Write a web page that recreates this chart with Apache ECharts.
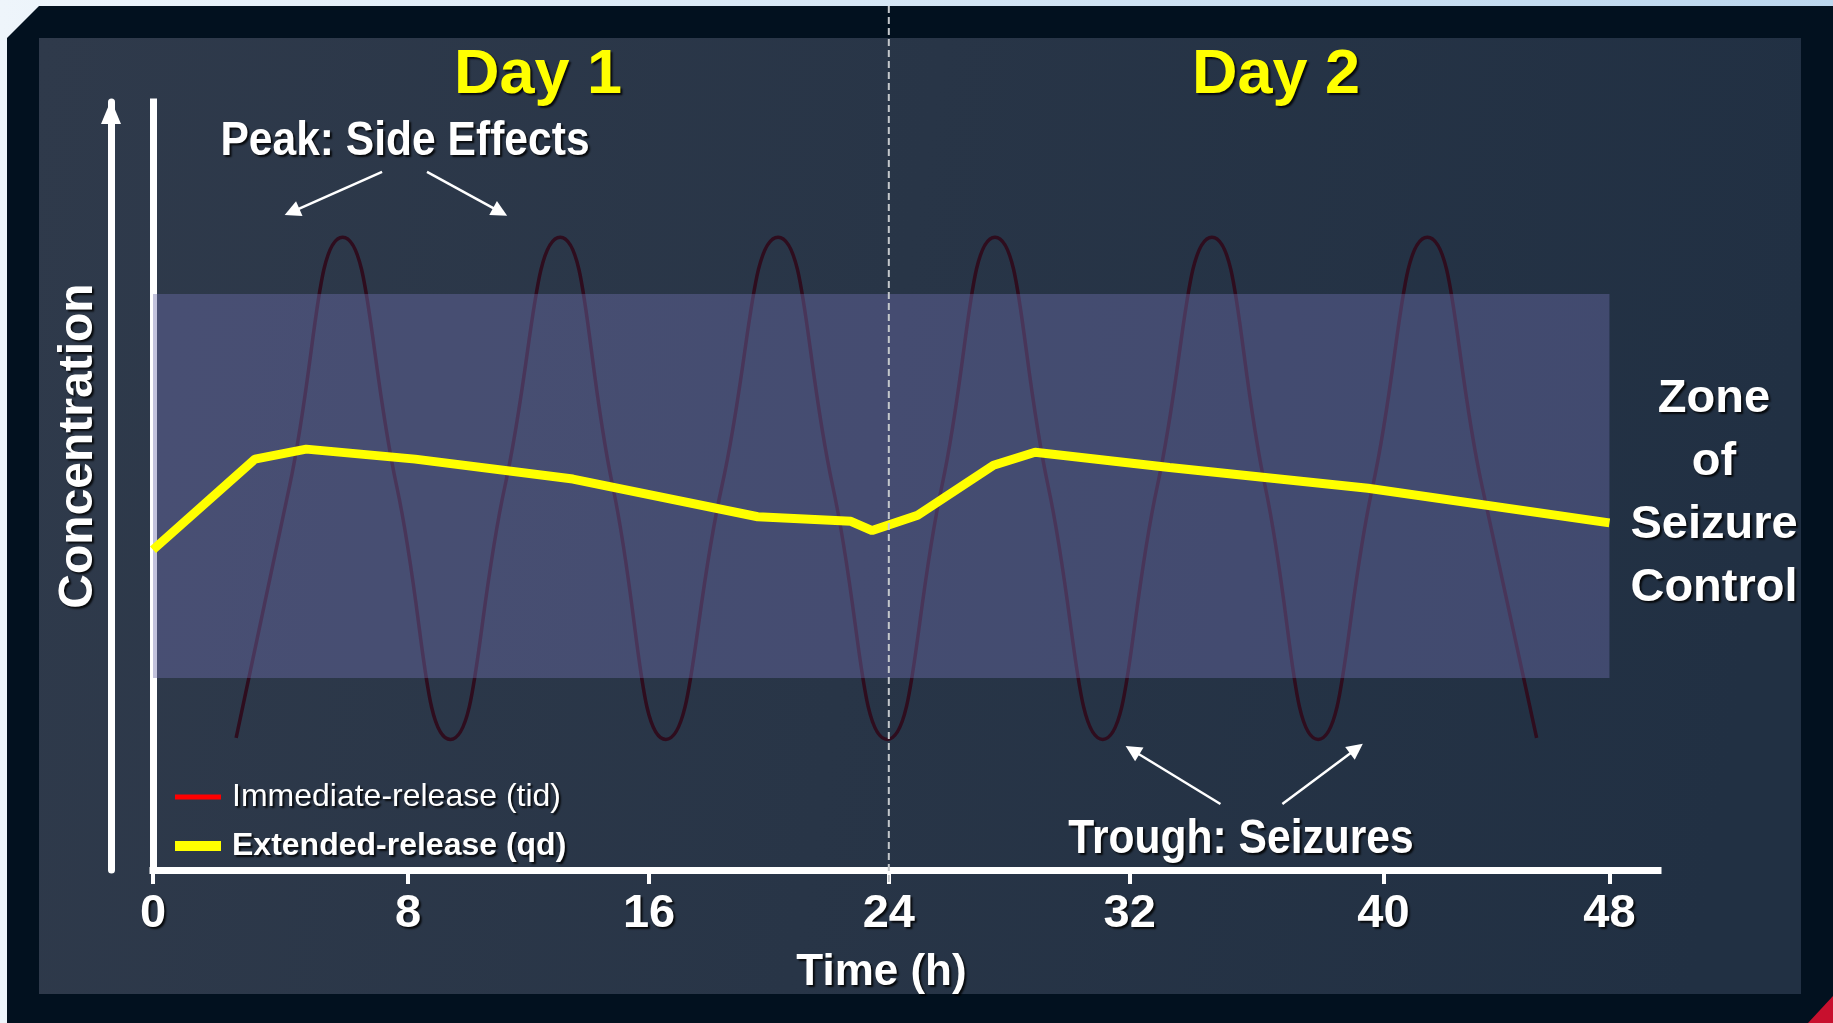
<!DOCTYPE html>
<html>
<head>
<meta charset="utf-8">
<title>Immediate-release vs extended-release</title>
<script src="https://cdn.jsdelivr.net/npm/echarts@6/dist/echarts.min.js"></script>
<style>
html, body { margin: 0; padding: 0; background: #02111f; }
#chart { width: 1833px; height: 1023px; }
</style>
</head>
<body>
<div id="chart"></div>
<script>
// x axis: hours, y axis: relative concentration (0-100, no labels)
// the hand-placed ticks of the slide sit a little off the even grid, so keep where they are
var tickLabels = ['0', '8', '16', '24', '32', '40', '48'];
var tickHours  = [0, 8.41, 16.35, 24.25, 32.19, 40.55, 48];

// immediate-release (tid) - peaks, troughs and mid crossings
var irTimes  = [2.74, 4.5, 6.25, 8.03, 9.8, 11.6, 13.42, 15.15, 16.9, 18.75, 20.6, 22.4, 24.2,
                26.0, 27.75, 29.5, 31.3, 33.1, 34.9, 36.65, 38.4, 40.2, 42.0, 43.8, 45.6];
var irValues = [17.2, 50, 82.4, 50, 17, 50, 82.4, 50, 17, 50, 82.4, 50, 17,
                50, 82.4, 50, 17, 50, 82.4, 50, 17, 50, 82.4, 50, 17.2];

// extended-release (qd)
var erTimes  = [0, 3.36, 5.05, 8.64, 13.84, 19.93, 23.0, 23.7, 25.2, 27.7, 29.07, 33.5, 40.04, 48];
var erValues = [41.7, 53.5, 54.8, 53.5, 50.9, 46.0, 45.4, 44.2, 46.2, 52.7, 54.4, 52.4, 49.7, 45.2];

// zone of seizure control
var zoneLow = 25, zoneHigh = 75, zoneEnd = 48;
var dayBreak = 24.25;

// annotation arrows [from, to] in (hours, concentration)
var peakArrows   = [[[7.55, 90.9], [4.58, 85.7]], [[9.03, 90.9], [11.44, 85.7]]];
var troughArrows = [[[35.18, 8.6], [32.28, 15.6]], [[37.22, 8.6], [39.66, 15.8]]];

var FONT = '"Liberation Sans", Arial, sans-serif';

function zip(xs, ys) {
    return xs.map(function (x, i) { return [x, ys[i]]; });
}

var shadow = {
    textShadowColor: 'rgba(0,0,0,0.85)',
    textShadowBlur: 2,
    textShadowOffsetX: 2,
    textShadowOffsetY: 2
};

function label(x, y, text, font, color, extra) {
    var el = {
        type: 'text', x: x, y: y, z: 20,
        style: Object.assign({
            text: text, font: font, fill: color || '#fff',
            align: 'center', verticalAlign: 'middle',
            textAlign: 'center', textVerticalAlign: 'middle'
        }, shadow)
    };
    return Object.assign(el, extra || {});
}

var zoneText = label(1714, 494, 'Zone\nof\nSeizure\nControl', 'bold 47px ' + FONT, '#fff');
zoneText.style.lineHeight = 63;

var frame = [
    { type: 'rect', z: -20, shape: { x: 0, y: 0, width: 1833, height: 1023 },
      style: { fill: new echarts.graphic.LinearGradient(0, 0, 1, 0, [
          { offset: 0, color: '#eef5fb' }, { offset: 1, color: '#bcd7ee' }]) } },
    { type: 'polygon', z: -19, shape: { points: [[7, 38], [39, 6], [1833, 6], [1833, 1023], [7, 1023]] },
      style: { fill: '#02111f' } },
    { type: 'rect', z: -18, shape: { x: 39, y: 38, width: 1762, height: 956 },
      style: { fill: new echarts.graphic.LinearGradient(0, 0, 1, 0.3, [
          { offset: 0, color: '#2f3a4b' }, { offset: 1, color: '#213043' }]) } },
    { type: 'polygon', z: -17, shape: { points: [[1808, 1023], [1833, 996], [1833, 1023]] },
      style: { fill: '#c8102e' } },
    label(538, 76, 'Day 1', 'bold 63px ' + FONT, '#ffff00'),
    label(1276, 76, 'Day 2', 'bold 63px ' + FONT, '#ffff00'),
    label(405, 142, 'Peak: Side Effects', 'bold 48px ' + FONT, '#fff', { scaleX: 0.887 }),
    label(1241, 840, 'Trough: Seizures', 'bold 48px ' + FONT, '#fff', { scaleX: 0.887 }),
    zoneText,
    label(79, 446, 'Concentration', 'bold 48px ' + FONT, '#fff', { rotation: Math.PI / 2 })
];

var arrowLines = peakArrows.concat(troughArrows).map(function (a) {
    return [{ coord: a[0] }, { coord: a[1] }];
});

var chart = echarts.init(document.getElementById('chart'));

var option = {
    backgroundColor: '#02111f',
    animation: false,
    graphic: { elements: frame },
    grid: { left: 153, right: 175, top: 102, bottom: 153, containLabel: false },
    legend: {
        orient: 'vertical',
        left: 170,
        top: 773,
        itemWidth: 46,
        itemHeight: 12,
        itemGap: 11,
        selectedMode: false,
        textStyle: Object.assign({ color: '#fff', fontFamily: FONT, fontSize: 32, lineHeight: 38,
                                   padding: [0, 0, 0, 6] }, shadow),
        data: [
            { name: 'Immediate-release (tid)', icon: 'path://M0,0M46,12M0,3.5h46v5h-46z',
              itemStyle: { color: '#ff0000' }, textStyle: { fontWeight: 'normal' } },
            { name: 'Extended-release (qd)', icon: 'path://M0,0M46,12M0,1h46v10h-46z',
              itemStyle: { color: '#ffff00' }, textStyle: { fontWeight: 'bold' } }
        ]
    },
    xAxis: {
        type: 'value',
        min: 0,
        max: 49.6,
        name: 'Time (h)',
        nameLocation: 'middle',
        nameGap: 81,
        nameTextStyle: Object.assign({ color: '#fff', fontFamily: FONT, fontSize: 44, fontWeight: 'bold',
                                       padding: [0, 48, 0, 0] }, shadow),
        axisLine: { onZero: false, lineStyle: { color: '#fff', width: 7, cap: 'square' } },
        axisTick: { show: true, length: 14, customValues: tickHours, lineStyle: { color: '#fff', width: 4 } },
        axisLabel: Object.assign({
            color: '#fff', fontFamily: FONT, fontSize: 47, fontWeight: 'bold',
            margin: 21, customValues: tickHours,
            formatter: function (v) {
                var i = tickHours.indexOf(v);
                return i < 0 ? '' : tickLabels[i];
            }
        }, shadow),
        splitLine: { show: false }
    },
    yAxis: [{
        type: 'value',
        min: 0,
        max: 100,
        axisLine: { show: true, onZero: false, lineStyle: { color: '#fff', width: 7, cap: 'square' } },
        axisTick: { show: false },
        axisLabel: { show: false },
        splitLine: { show: false }
    }, {
        type: 'value',
        position: 'left',
        offset: 42,
        min: 0,
        max: 100,
        axisLine: { show: true, onZero: false, symbol: ['none', 'triangle'], symbolSize: [20, 24],
                    symbolOffset: [0, -10], lineStyle: { color: '#fff', width: 7 } },
        axisTick: { show: false },
        axisLabel: { show: false },
        splitLine: { show: false }
    }],
    series: [{
        name: 'Immediate-release (tid)',
        type: 'line',
        z: 2,
        smooth: 0.5,
        showSymbol: false,
        symbol: 'none',
        data: zip(irTimes, irValues),
        lineStyle: { color: '#2e0d1e', width: 3.5 },
        itemStyle: { color: '#2e0d1e' },
        markArea: {
            z: 3,
            silent: true,
            itemStyle: { color: 'rgba(110,110,172,0.42)' },
            data: [[{ coord: [0, zoneLow] }, { coord: [zoneEnd, zoneHigh] }]]
        },
        markLine: {
            z: 6,
            silent: true,
            symbol: ['none', 'triangle'],
            symbolSize: 16,
            label: { show: false },
            itemStyle: { color: '#fff' },
            lineStyle: { color: '#fff', width: 2.5, type: 'solid' },
            data: arrowLines
        }
    }, {
        name: 'Extended-release (qd)',
        type: 'line',
        z: 4,
        showSymbol: false,
        symbol: 'none',
        data: zip(erTimes, erValues),
        lineStyle: { color: '#ffff00', width: 9 },
        itemStyle: { color: '#ffff00' }
    }]
};

chart.setOption(option);

// day boundary: dashed line through the whole panel, placed through the x axis scale
var bx = chart.convertToPixel({ xAxisIndex: 0 }, dayBreak);
chart.setOption({
    graphic: { elements: frame.concat([{
        type: 'line', z: 15,
        shape: { x1: bx, y1: 6, x2: bx, y2: 883 },
        style: { stroke: '#c4c8cc', lineWidth: 2, lineDash: [7, 4] }
    }]) }
});
</script>
</body>
</html>
